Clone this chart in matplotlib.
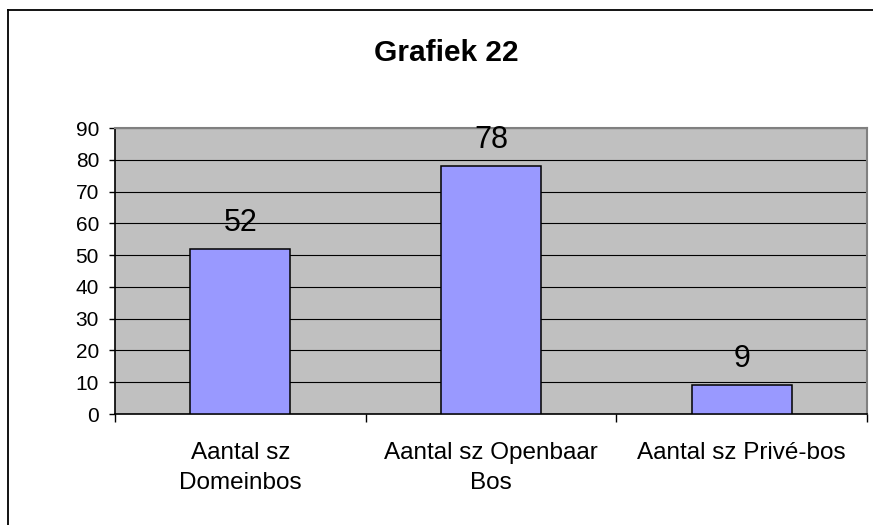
import numpy as np
import matplotlib.pyplot as plt
from matplotlib.lines import Line2D

plt.rcParams['font.family'] = ['Liberation Sans', 'DejaVu Sans']

# Data
categories = ['Aantal sz\nDomeinbos', 'Aantal sz Openbaar\nBos', 'Aantal sz Privé-bos']
values = [52, 78, 9]
yticks = [0, 10, 20, 30, 40, 50, 60, 70, 80, 90]
title = 'Grafiek 22'

W, H = 873, 525
fig = plt.figure(figsize=(W / 100, H / 100), dpi=100)

# outer frame (runs off the right and bottom edge)
fig.add_artist(Line2D([8 / W, 1.0], [1 - 10 / H, 1 - 10 / H], color='black', lw=1.3))
fig.add_artist(Line2D([8 / W, 8 / W], [0.0, 1 - 10 / H], color='black', lw=1.3))

ax = fig.add_axes([115 / W, (H - 414) / H, (867 - 115) / W, (414 - 128) / H])
ax.set_facecolor('#C0C0C0')

x = np.arange(len(values))
ax.bar(x, values, width=0.4, color='#9999FF', edgecolor='black', linewidth=1.1, zorder=3)

for xi, v in zip(x, values):
    ax.annotate(str(v), (xi, v), xytext=(0, 13), textcoords='offset points',
                ha='center', va='baseline', fontsize=22)

ax.set_xlim(-0.5, len(values) - 0.5)
ax.set_ylim(0, 90)
ax.set_yticks(yticks)
ax.tick_params(axis='y', labelsize=15, length=4.5, width=1, pad=7)
ax.yaxis.grid(True, color='black', lw=0.8, zorder=1)
ax.set_axisbelow(True)

# ticks at category boundaries, labels at centres
ax.set_xticks(np.arange(len(values) + 1) - 0.5)
ax.set_xticklabels([])
ax.tick_params(axis='x', which='major', length=6, width=1)
ax.set_xticks(x, minor=True)
ax.set_xticklabels(categories, minor=True, fontsize=17.5, linespacing=1.5)
ax.tick_params(axis='x', which='minor', length=0, pad=20)

for side in ['top', 'right']:
    ax.spines[side].set_color('#808080')
    ax.spines[side].set_linewidth(1.5)
for side in ['left', 'bottom']:
    ax.spines[side].set_color('black')
    ax.spines[side].set_linewidth(1.2)

fig.text(446 / W, 1 - 61 / H, title, ha='center', va='baseline',
         fontsize=21.5, fontweight='bold')

fig.savefig('out.png', dpi=100)
